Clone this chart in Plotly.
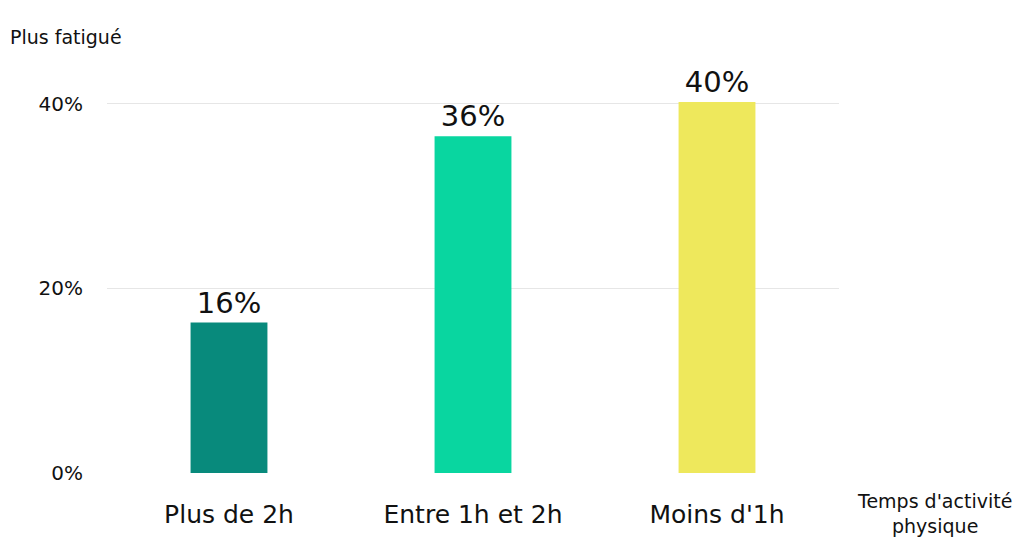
import plotly.graph_objects as go

# Data
categories = ["Plus de 2h", "Entre 1h et 2h", "Moins d'1h"]
values = [0.163, 0.365, 0.402]
labels = ["16%", "36%", "40%"]
colours = ["#088a7c", "#09d6a0", "#eee85c"]
tick_vals = [0, 0.2, 0.4]
tick_text = ["0%", "20%", "40%"]

FONT = "DejaVu Sans"
INK = "#111111"

fig = go.Figure()

fig.add_trace(go.Bar(
    x=categories,
    y=values,
    marker=dict(color=colours, line=dict(width=0)),
    text=labels,
    textposition="outside",
    textfont=dict(size=29, color=INK, family=FONT),
    cliponaxis=False,
    showlegend=False,
))

# page body adds ~8px offset, so margins are shifted to compensate
fig.update_layout(
    width=1024,
    height=543,
    margin=dict(l=99, r=193, t=59, b=78),
    paper_bgcolor="white",
    plot_bgcolor="white",
    bargap=0.685,
    font=dict(family=FONT, color=INK),
    annotations=[
        dict(text="Plus fatigué", xref="paper", yref="paper", x=-0.1352, y=1.0,
             xanchor="left", yanchor="middle", yshift=30, showarrow=False,
             font=dict(size=19, color=INK)),
        dict(text="Temps d'activité<br>physique", xref="paper", yref="paper", x=1.1298, y=0,
             xanchor="center", yanchor="middle", yshift=-40, showarrow=False,
             font=dict(size=19, color=INK)),
    ],
)

fig.update_xaxes(
    showline=False,
    ticks="",
    tickfont=dict(size=25, color=INK),
    showgrid=False,
    ticklabelstandoff=24,
)

fig.update_yaxes(
    range=[0, 0.44],
    tickvals=tick_vals,
    ticktext=tick_text,
    tickfont=dict(size=20, color=INK),
    showgrid=True,
    gridcolor="#e6e6e6",
    gridwidth=1,
    zeroline=False,
    ticklabelstandoff=23,
)

fig.write_html("out.html")
